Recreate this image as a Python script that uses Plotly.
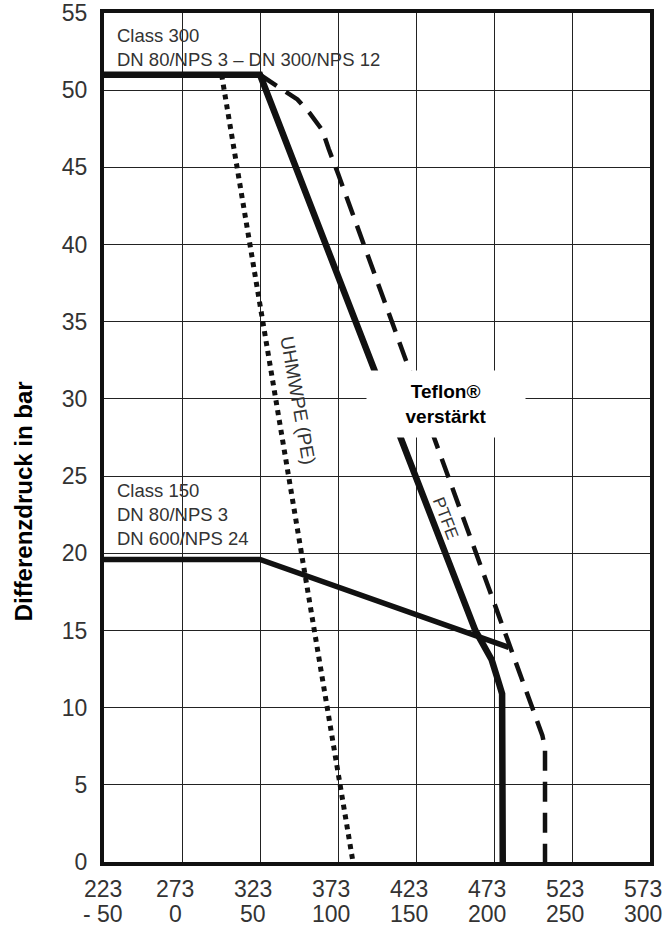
import plotly.graph_objects as go

# Temperature axis (Kelvin) and Celsius labels
x_ticks_k = [223, 273, 323, 373, 423, 473, 523, 573]
x_ticks_c = ["- 50", "0", "50", "100", "150", "200", "250", "300"]
y_ticks = [0, 5, 10, 15, 20, 25, 30, 35, 40, 45, 50, 55]

# Class 300 + PTFE (solid thick)
ptfe_x = [223, 323, 461, 471.5, 475.5, 478.2, 478.6]
ptfe_y = [51, 51, 15.0, 13.1, 11.8, 10.9, 0]

# Class 150 (solid thick)
c150_x = [223, 323, 482.5]
c150_y = [19.6, 19.6, 13.9]

# Teflon reinforced (dashed)
tef_x = [323, 336, 347, 355, 363, 367, 373, 504, 505.7, 505.7]
tef_y = [51, 50.1, 49.4, 48.5, 47.4, 46.2, 44.6, 8.2, 7.4, 0]

# UHMWPE (PE) (dotted)
pe_x = [298.4, 382.6]
pe_y = [51, 0]

fig = go.Figure()
fig.add_trace(go.Scatter(x=pe_x, y=pe_y, mode="lines",
                         line=dict(color="#111", width=5, dash="dot"), hoverinfo="skip"))
fig.add_trace(go.Scatter(x=tef_x, y=tef_y, mode="lines",
                         line=dict(color="#111", width=4.5, dash="20px,11px"), hoverinfo="skip"))
fig.add_trace(go.Scatter(x=c150_x, y=c150_y, mode="lines",
                         line=dict(color="#111", width=5.5), hoverinfo="skip"))
fig.add_trace(go.Scatter(x=ptfe_x, y=ptfe_y, mode="lines",
                         line=dict(color="#111", width=6.5), hoverinfo="skip"))

txt = "#333"
# two-row x tick labels (Kelvin / Celsius)
for i, (k, c) in enumerate(zip(x_ticks_k, x_ticks_c)):
    shift = -1 if i == 0 else -7
    fig.add_annotation(x=k, y=0, xref="x", yref="paper", yanchor="middle", xanchor="center",
                       yshift=-26.5, xshift=shift, text=str(k), showarrow=False,
                       font=dict(size=23, color=txt))
    fig.add_annotation(x=k, y=0, xref="x", yref="paper", yanchor="middle", xanchor="center",
                       yshift=-52, xshift=shift, text=c, showarrow=False,
                       font=dict(size=23, color=txt))

fig.add_annotation(x=0.02, y=0.988, xref="paper", yref="paper", xanchor="left", yanchor="top",
                   text="Class 300<br>DN 80/NPS 3 – DN 300/NPS 12", showarrow=False, align="left",
                   font=dict(size=18.5, color=txt))
fig.add_annotation(x=0.02, y=24.9, xref="paper", yref="y", xanchor="left", yanchor="top",
                   text="Class 150<br>DN 80/NPS 3<br>DN 600/NPS 24", showarrow=False, align="left",
                   font=dict(size=18.5, color=txt))
fig.add_annotation(x=347.4, y=29.9, text="UHMWPE (PE)", showarrow=False, textangle=80,
                   font=dict(size=19, color=txt))
fig.add_annotation(x=441.6, y=22.3, text="PTFE", showarrow=False, textangle=69,
                   font=dict(size=17, color=txt))
fig.add_annotation(x=442.2, y=29.7, text="<b>Teflon®<br>verstärkt</b>", showarrow=False,
                   bgcolor="white", width=154, height=62, borderpad=2, align="center",
                   font=dict(size=19, color="black"))
fig.add_annotation(x=-0.148, y=0.425, xref="paper", yref="paper", xanchor="center", yanchor="middle",
                   text="<b>Differenzdruck in bar</b>",
                   textangle=-90, showarrow=False, font=dict(size=24, color="black"))

fig.update_layout(
    xaxis=dict(range=[223, 573], tickvals=x_ticks_k, showticklabels=False,
               showgrid=True, gridcolor="#222", gridwidth=1.4, zeroline=False,
               showline=True, linecolor="#111", linewidth=4, mirror=True, automargin=False,
               ticks=""),
    yaxis=dict(range=[0, 55], tickvals=y_ticks,
               showgrid=True, gridcolor="#222", gridwidth=1.4, zeroline=False,
               showline=True, linecolor="#111", linewidth=4, mirror=True, automargin=False,
               ticks="", tickfont=dict(size=23, color=txt), ticklabelstandoff=8,
               ticklabeloverflow="allow"),
    width=664, height=930, margin=dict(l=104, r=14, t=13, b=68),
    plot_bgcolor="white", paper_bgcolor="white", showlegend=False,
    font=dict(family="Liberation Sans, Arial, sans-serif"))
fig.write_html("out.html", config={"displayModeBar": False},
               post_script="document.body.style.margin='0';document.body.style.overflow='hidden';")
